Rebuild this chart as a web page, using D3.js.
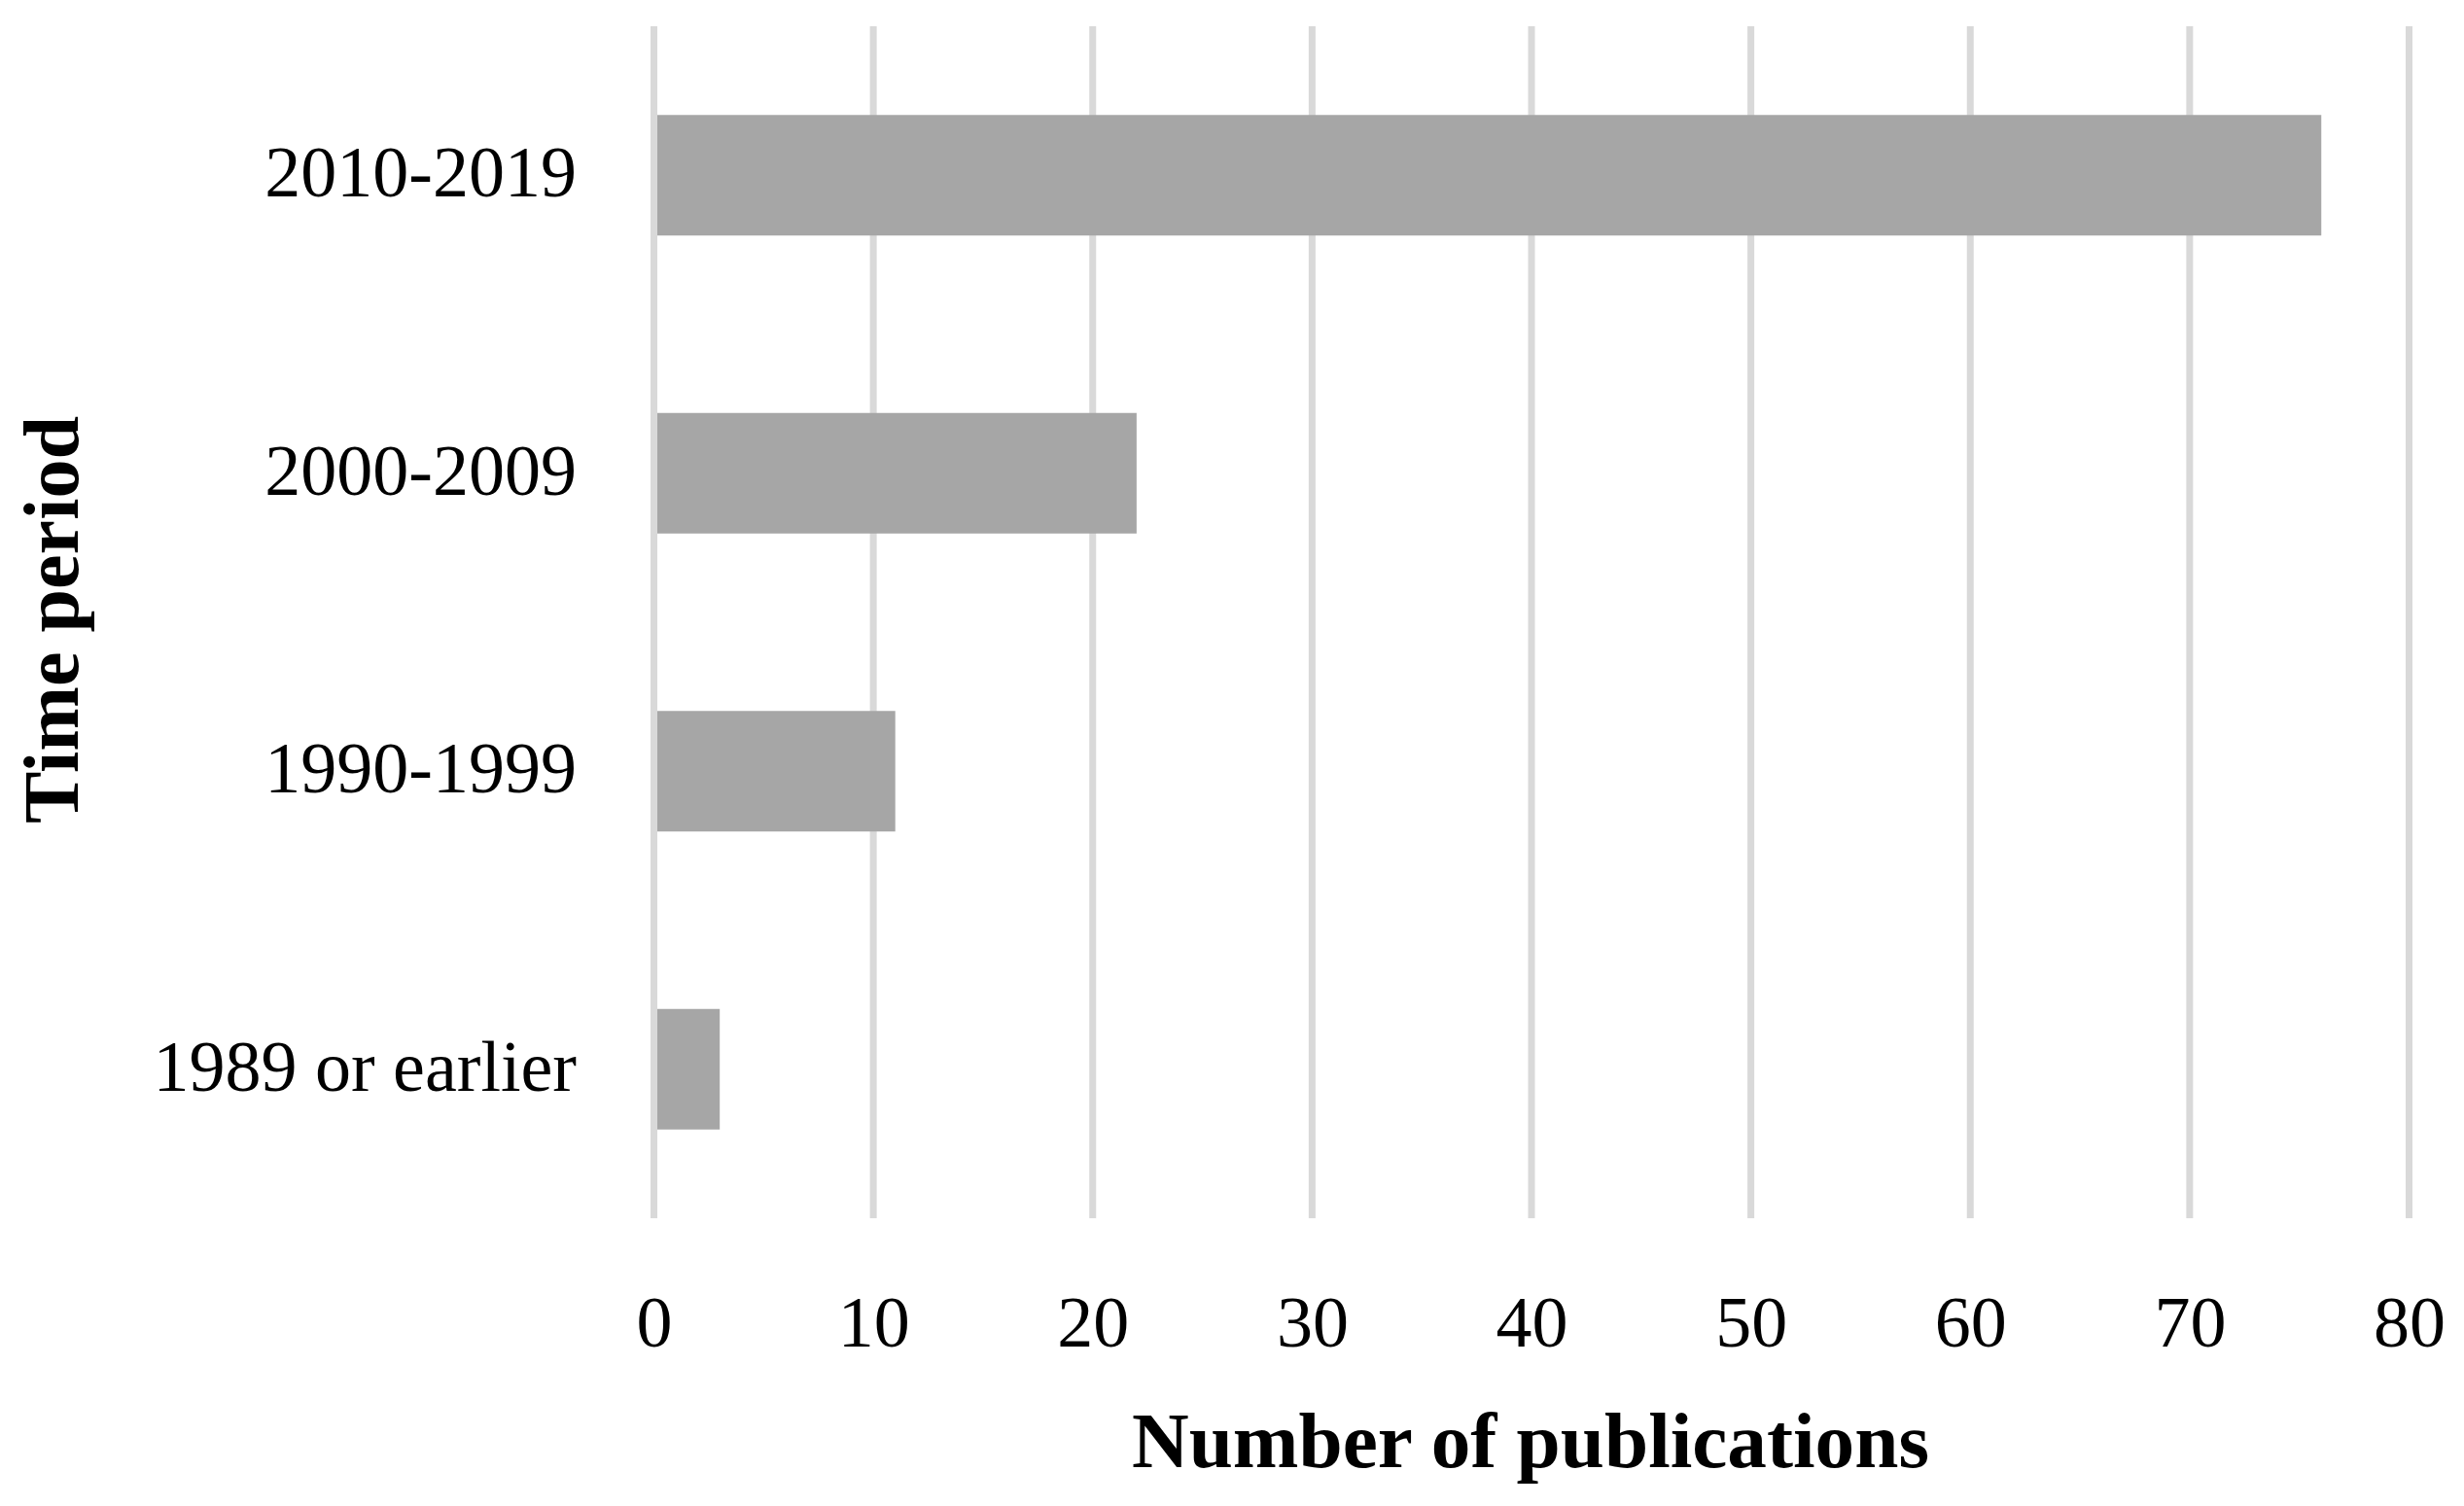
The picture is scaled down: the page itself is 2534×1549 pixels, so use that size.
<!DOCTYPE html>
<html>
<head>
<meta charset="utf-8">
<script src="https://cdn.jsdelivr.net/npm/d3@7"></script>
<style>
html,body{margin:0;padding:0;background:#fff;}
svg{display:block;}
text{font-family:"Liberation Serif","Times New Roman",serif;fill:#000;}
</style>
</head>
<body>
<svg id="chart" width="2534" height="1549"></svg>
<script>
const categories = ["2010-2019", "2000-2009", "1990-1999", "1989 or earlier"];
const values = [76, 22, 11, 3];
const xTicks = [0, 10, 20, 30, 40, 50, 60, 70, 80];
const xTitle = "Number of publications";
const yTitle = "Time period";

const svg = d3.select("#chart");
const W = 2534, H = 1549;
svg.append("rect").attr("width", W).attr("height", H).attr("fill", "#fff");

const plot = {left: 672.5, right: 2477.5, top: 27, bottom: 1253};

const x = d3.scaleLinear().domain([0, 80]).range([plot.left, plot.right]);
const pi = 1 - 124 / 306.5;
const y = d3.scaleBand().domain(categories).range([plot.top, plot.bottom])
  .paddingInner(pi).paddingOuter(pi / 2);

// gridlines
svg.append("g").selectAll("line").data(xTicks).join("line")
  .attr("x1", d => x(d)).attr("x2", d => x(d))
  .attr("y1", plot.top).attr("y2", plot.bottom)
  .attr("stroke", "#d9d9d9").attr("stroke-width", 7);

// bars
svg.append("g").selectAll("rect").data(categories).join("rect")
  .attr("x", x(0) + 3.5)
  .attr("y", d => y(d))
  .attr("width", (d, i) => x(values[i]) - x(0) - 3.5)
  .attr("height", y.bandwidth())
  .attr("fill", "#a6a6a6");

// x axis tick labels
const xAxis = d3.axisBottom(x).tickValues(xTicks).tickSize(0).tickPadding(0).tickFormat(d3.format("d"));
const gx = svg.append("g").attr("transform", `translate(0,${plot.bottom})`).call(xAxis);
gx.select(".domain").remove();
gx.selectAll("text")
  .attr("y", 1385 - plot.bottom).attr("dy", null)
  .style("font-family", '"Liberation Serif", serif')
  .style("font-size", "74px").attr("fill", "#000");

// y axis category labels
const yAxis = d3.axisLeft(y).tickSize(0).tickPadding(0);
const gy = svg.append("g").attr("transform", `translate(593,0)`).call(yAxis);
gy.select(".domain").remove();
gy.selectAll("text")
  .attr("x", 0).attr("dy", null).attr("y", 22)
  .style("font-family", '"Liberation Serif", serif')
  .style("font-size", "74px").attr("fill", "#000");

// axis titles
svg.append("text")
  .attr("x", (plot.left + plot.right) / 2 - 1).attr("y", 1509)
  .attr("text-anchor", "middle")
  .style("font-size", "80px").style("font-weight", "bold")
  .attr("textLength", 820).attr("lengthAdjust", "spacingAndGlyphs")
  .text(xTitle);

svg.append("text")
  .attr("transform", `translate(80,637.5) rotate(-90)`)
  .attr("text-anchor", "middle")
  .style("font-size", "80px").style("font-weight", "bold")
  .attr("textLength", 419).attr("lengthAdjust", "spacingAndGlyphs")
  .text(yTitle);
</script>
</body>
</html>
